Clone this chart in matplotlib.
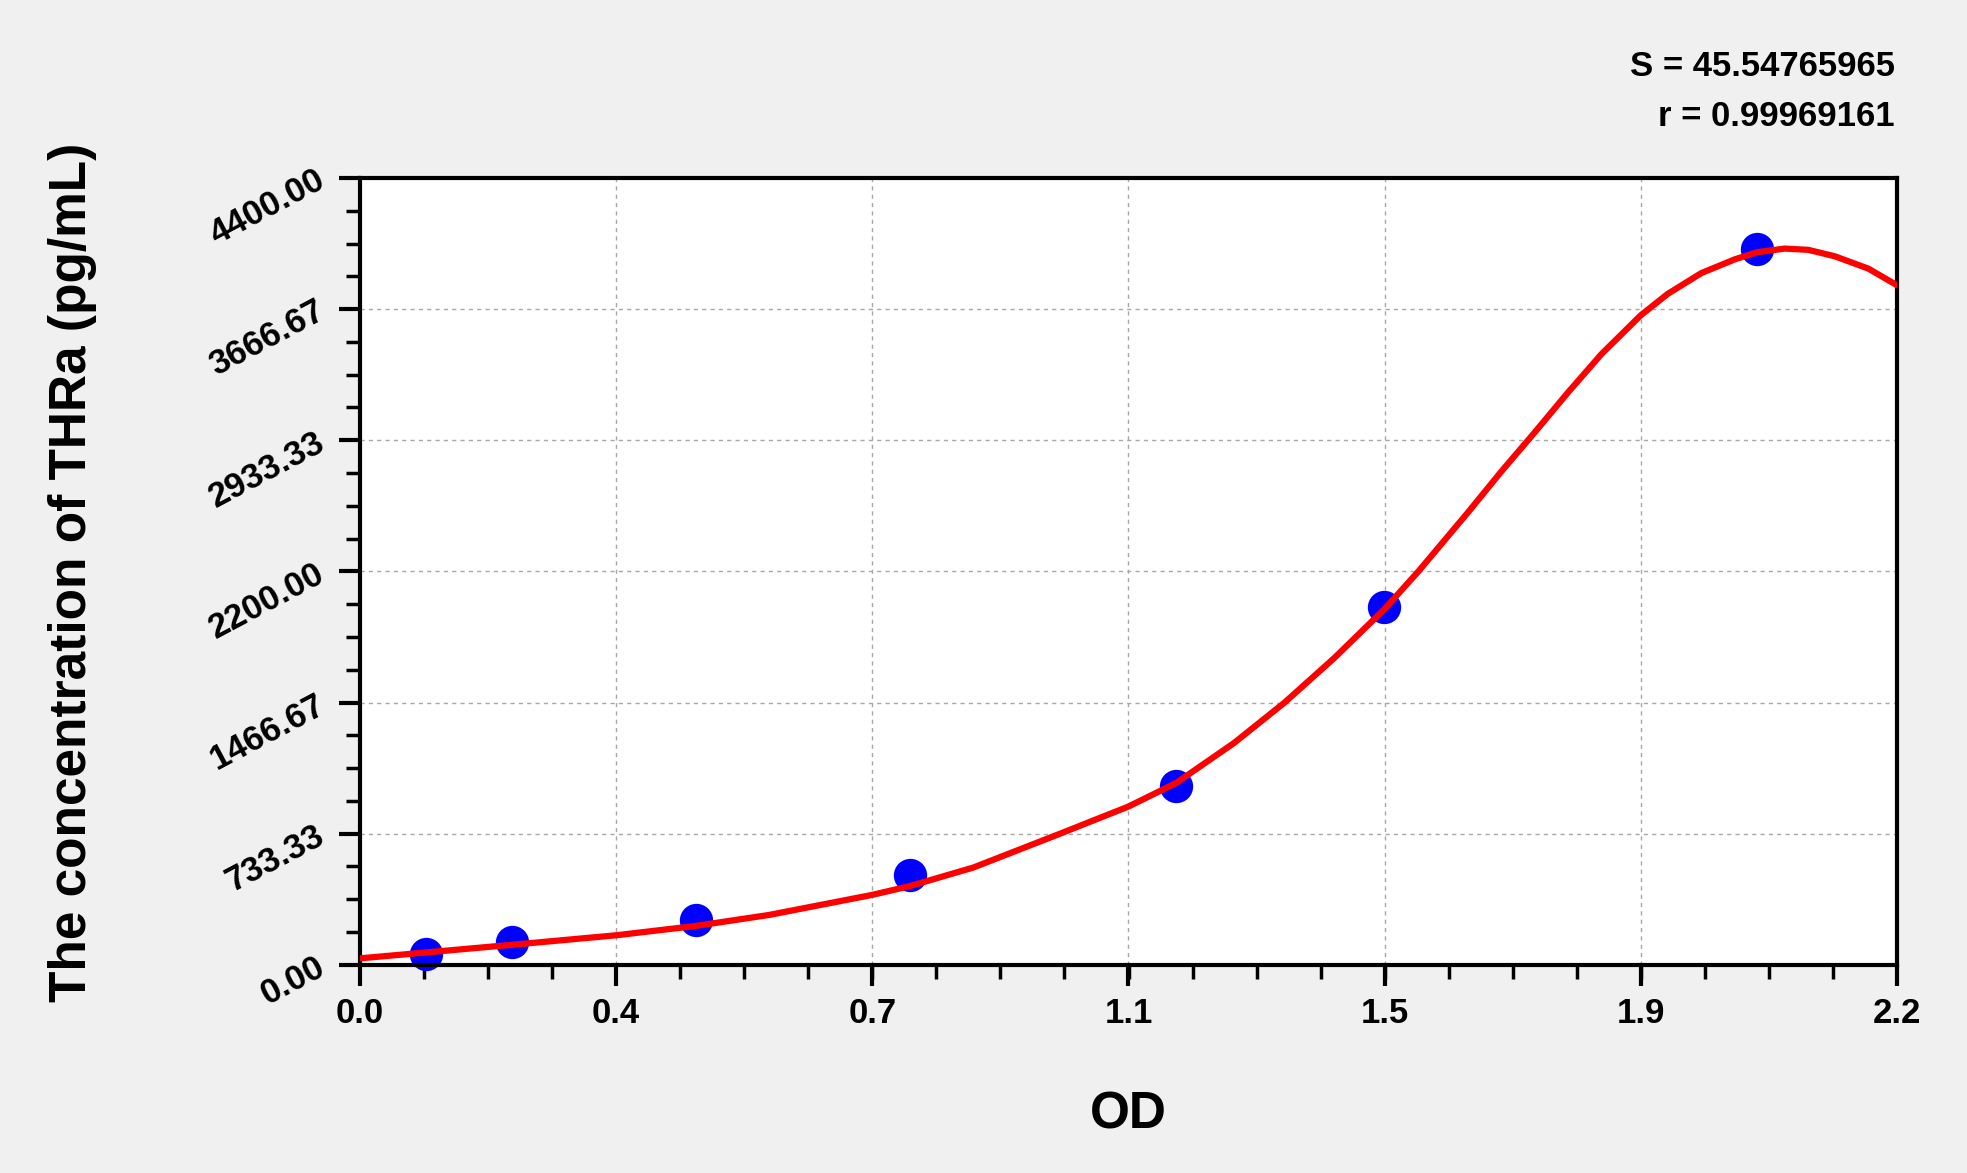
import numpy as np
import matplotlib
matplotlib.use("Agg")
import matplotlib.pyplot as plt
from matplotlib.ticker import AutoMinorLocator, FixedLocator

# Standards (OD, concentration)
od = [0.0945, 0.218, 0.4805, 0.787, 1.1685, 1.4655, 1.999]
conc = [62.5, 125, 250, 500, 1000, 2000, 4000]

fit_od = [0.0, 0.0945, 0.218, 0.3667, 0.48, 0.586, 0.7333, 0.787, 0.878,
          1.002, 1.1, 1.168, 1.251, 1.323, 1.395, 1.4667, 1.515, 1.586,
          1.634, 1.681, 1.729, 1.777, 1.8333, 1.872, 1.92, 1.968, 1.999,
          2.039, 2.073, 2.111, 2.159, 2.2]
fit_conc = [36, 69, 112, 165, 217, 279, 391, 440, 544,
            733, 885, 1016, 1240, 1465, 1717, 1990, 2200, 2530,
            2760, 2975, 3200, 3415, 3632, 3752, 3868, 3945, 3984,
            4005, 3998, 3962, 3893, 3800]

x_ticks = [0.0, 0.3667, 0.7333, 1.1, 1.4667, 1.8333, 2.2]
x_labels = ['0.0', '0.4', '0.7', '1.1', '1.5', '1.9', '2.2']
y_ticks = [0, 733.33, 1466.67, 2200, 2933.33, 3666.67, 4400]
y_labels = ['0.00', '733.33', '1466.67', '2200.00', '2933.33', '3666.67', '4400.00']

stat_lines = ['S = 45.54765965', 'r = 0.99969161']
x_title = 'OD'
y_title = 'The concentration of THRa (pg/mL)'

plt.rcParams['font.family'] = ['Liberation Sans', 'DejaVu Sans']
plt.rcParams['font.weight'] = 'bold'

fig = plt.figure(figsize=(19.67, 11.73), dpi=100, facecolor='#f0f0f0')
ax = fig.add_axes([0.1830, 0.1775, 0.9644 - 0.1830, 0.8483 - 0.1775])
ax.set_facecolor('white')

ax.plot(fit_od, fit_conc, color='#ff0000', lw=4.5, zorder=3,
        solid_joinstyle='round', solid_capstyle='round')
ax.plot(od, conc, 'o', color='#0000ff', ms=24, mec='none', zorder=2, clip_on=False)

ax.set_xlim(0, 2.2)
ax.set_ylim(0, 4400)
ax.xaxis.set_major_locator(FixedLocator(x_ticks))
ax.set_xticklabels(x_labels)
ax.yaxis.set_major_locator(FixedLocator(y_ticks))
ax.set_yticklabels(y_labels)
ax.xaxis.set_minor_locator(AutoMinorLocator(4))
ax.yaxis.set_minor_locator(AutoMinorLocator(4))

ax.tick_params(which='major', length=15, width=3, direction='out', labelsize=25)
ax.tick_params(which='minor', length=10, width=2.5, direction='out')
ax.tick_params(axis='x', which='major', pad=8)
ax.tick_params(axis='y', which='major', pad=12)
for lbl in ax.get_yticklabels():
    lbl.set_rotation(28)
    lbl.set_rotation_mode('anchor')
    lbl.set_ha('right')
    lbl.set_va('center')
    lbl.set_fontweight('bold')
for lbl in ax.get_xticklabels():
    lbl.set_fontweight('bold')

for sp in ax.spines.values():
    sp.set_linewidth(3)

ax.grid(True, which='major', color='#a8a8a8', ls=(0, (3, 3)), lw=1)
ax.set_axisbelow(True)

ax.set_xlabel(x_title, fontsize=37, fontweight='bold', labelpad=44)
fig.text(73 / 1967, 1 - 572 / 1173, y_title, rotation=90, fontsize=37,
         fontweight='bold', ha='center', va='center')

fig.text(1895 / 1967, 1 - 66 / 1173, stat_lines[0], fontsize=25, fontweight='bold',
         ha='right', va='center')
fig.text(1895 / 1967, 1 - 116 / 1173, stat_lines[1], fontsize=25, fontweight='bold',
         ha='right', va='center')

fig.savefig('out.png', dpi=100, facecolor=fig.get_facecolor())
